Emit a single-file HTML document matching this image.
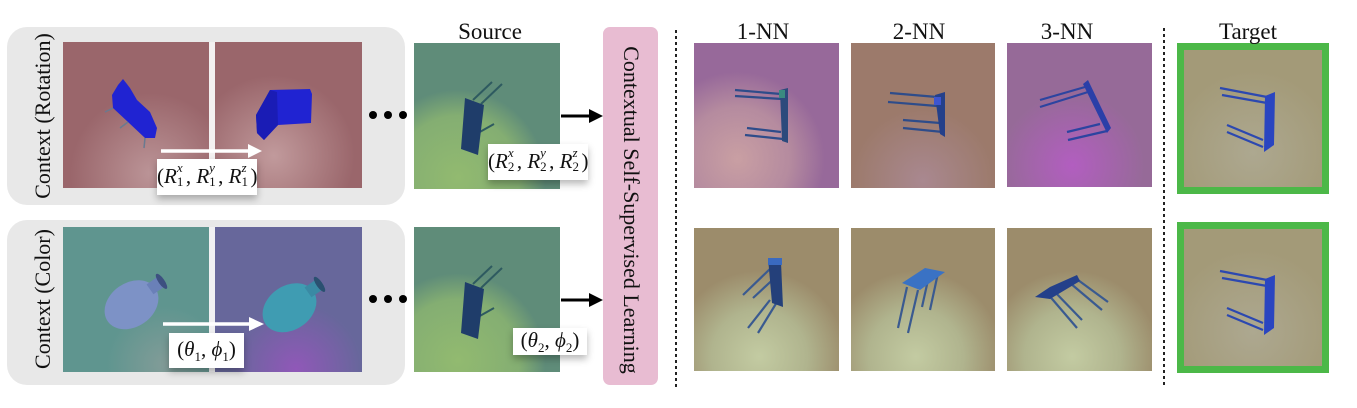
<!DOCTYPE html>
<html><head><meta charset="utf-8">
<style>
html,body{margin:0;padding:0;background:#fff;}
body{width:1357px;height:408px;position:relative;overflow:hidden;font-family:"Liberation Serif",serif;color:#111;}
.abs{position:absolute;}
.panel{position:absolute;background:#e8e8e8;border-radius:20px;}
.head{position:absolute;font-size:23px;line-height:23px;transform:translateX(-50%);white-space:nowrap;top:20px;}
.rot{position:absolute;font-size:22px;line-height:22px;white-space:nowrap;transform:translate(-50%,-50%) rotate(-90deg);}
.rot90{position:absolute;font-size:22px;line-height:22px;white-space:nowrap;transform:translate(-50%,-50%) rotate(90deg);}
.lbl{position:absolute;background:#fff;box-shadow:0 4px 7px rgba(0,0,0,.28);text-align:center;font-size:21px;white-space:nowrap;}
.lbl > span{display:inline-block;}
.ss{display:inline-block;position:relative;width:9px;height:10px;}
.ss .sp{position:absolute;left:0;top:-12px;font-size:13px;line-height:13px;font-style:italic;}
.ss .sd{position:absolute;left:0;top:2px;font-size:13px;line-height:13px;}
i{font-style:italic;}
.sb{display:inline-block;font-size:13px;position:relative;top:5px;}
</style></head><body>

<div class="panel" style="left:7px;top:27px;width:398px;height:178px;"></div>
<div class="panel" style="left:7px;top:220px;width:398px;height:165px;"></div>
<div class="abs" style="left:603px;top:27px;width:55px;height:358px;background:#e8bcd2;border-radius:7px;"></div>

<svg class="abs" style="left:0;top:0" width="1357" height="408" viewBox="0 0 1357 408">
<defs>
<radialGradient id="gRot1" cx="0.6" cy="0.9" r="0.55"><stop offset="0" stop-color="#bb9497"/><stop offset="1" stop-color="#9a666b"/></radialGradient>
<radialGradient id="gRot2" cx="0.4" cy="0.78" r="0.55"><stop offset="0" stop-color="#c19a9c"/><stop offset="1" stop-color="#9a666b"/></radialGradient>
<radialGradient id="gSrc" cx="0.3" cy="0.92" r="0.6"><stop offset="0" stop-color="#92ba70"/><stop offset="0.7" stop-color="#84ae72"/><stop offset="1" stop-color="#5f8c79"/></radialGradient>
<radialGradient id="gCol1" cx="0.7" cy="0.95" r="0.4"><stop offset="0" stop-color="#829c98"/><stop offset="1" stop-color="#5f958f"/></radialGradient>
<radialGradient id="gCol2" cx="0.55" cy="0.98" r="0.45"><stop offset="0" stop-color="#9058b8"/><stop offset="1" stop-color="#67679b"/></radialGradient>
<radialGradient id="gN1" cx="0.3" cy="0.8" r="0.6"><stop offset="0" stop-color="#c99fa3"/><stop offset="0.6" stop-color="#b58b9f"/><stop offset="1" stop-color="#97699a"/></radialGradient>
<radialGradient id="gN2" cx="0.5" cy="0.95" r="0.5"><stop offset="0" stop-color="#a98890"/><stop offset="1" stop-color="#9c7a6b"/></radialGradient>
<radialGradient id="gN3" cx="0.45" cy="0.85" r="0.5"><stop offset="0" stop-color="#b25ec0"/><stop offset="1" stop-color="#966a98"/></radialGradient>
<radialGradient id="gB" cx="0.45" cy="0.9" r="0.6"><stop offset="0" stop-color="#c3cba2"/><stop offset="0.55" stop-color="#b0b48e"/><stop offset="1" stop-color="#9c8c6b"/></radialGradient>
<radialGradient id="gT" cx="0.5" cy="0.75" r="0.6"><stop offset="0" stop-color="#ada890"/><stop offset="1" stop-color="#a39a78"/></radialGradient>
</defs>

<rect x="63" y="42" width="146" height="146" fill="url(#gRot1)"/>
<rect x="209" y="42" width="6" height="146" fill="#f3f0f0"/>
<rect x="215" y="42" width="147" height="146" fill="url(#gRot2)"/>
<polygon points="123,79 130,88 137,100 150,112 157,128 155,138 145,138 128,122 113,108 112,95 118,85" fill="#2023d2"/>
<g stroke="#6a7a90" stroke-width="1.5"><line x1="113" y1="108" x2="105" y2="112"/><line x1="128" y1="122" x2="120" y2="128"/><line x1="145" y1="138" x2="144" y2="148"/></g>
<polygon points="270,90 310,89 312,94 311,123 278,125 264,140 257,133 256,115" fill="#2023d2"/>
<polygon points="270,90 277,92 278,125 264,140 257,133 256,115" fill="#1a1cb5"/>

<rect x="63" y="227" width="146" height="145" fill="url(#gCol1)"/>
<rect x="209" y="227" width="6" height="145" fill="#f0f0f2"/>
<rect x="215" y="227" width="147" height="145" fill="url(#gCol2)"/>
<g transform="rotate(-35 132 302)"><ellipse cx="130" cy="304" rx="29" ry="22" fill="#7d92c6"/><rect x="154" y="296" width="14" height="12" fill="#6a80b8"/><ellipse cx="168" cy="302" rx="3" ry="9" fill="#3d5080"/></g>
<g transform="rotate(-35 290 305)"><ellipse cx="288" cy="307" rx="29" ry="22" fill="#3f9cb2"/><rect x="312" y="299" width="14" height="12" fill="#3a8aa4"/><ellipse cx="326" cy="305" rx="3" ry="9" fill="#2a5070"/></g>

<g fill="#000"><circle cx="373" cy="115" r="4"/><circle cx="388" cy="115" r="4"/><circle cx="403" cy="115" r="4"/>
<circle cx="373" cy="299" r="4"/><circle cx="388" cy="299" r="4"/><circle cx="403" cy="299" r="4"/></g>

<line x1="161" y1="151" x2="250" y2="151" stroke="#fff" stroke-width="3.5"/>
<polygon points="248,144 262,151 248,158" fill="#fff"/>
<line x1="163" y1="324" x2="251" y2="324" stroke="#fff" stroke-width="3.5"/>
<polygon points="249,317 264,324 249,331" fill="#fff"/>

<rect x="414" y="43" width="146" height="146" fill="url(#gSrc)"/>
<rect x="414" y="227" width="146" height="145" fill="url(#gSrc)"/>
<g id="tbl">
<g stroke="#2e5a60" stroke-width="2"><line x1="473" y1="100" x2="492" y2="82"/><line x1="481" y1="104" x2="502" y2="84"/><line x1="478" y1="133" x2="494" y2="124"/></g>
<polygon points="465,98 484,105 478,155 461,149" fill="#1f3d6a"/>
</g>
<use href="#tbl" transform="translate(0,184)"/>

<line x1="561" y1="116" x2="592" y2="116" stroke="#000" stroke-width="3"/>
<polygon points="589,109 603,116 589,123" fill="#000"/>
<line x1="561" y1="300" x2="592" y2="300" stroke="#000" stroke-width="3"/>
<polygon points="589,293 603,300 589,307" fill="#000"/>

<line x1="676" y1="30" x2="676" y2="387" stroke="#222" stroke-width="2" stroke-dasharray="3,3"/>
<line x1="1164" y1="28" x2="1164" y2="387" stroke="#222" stroke-width="2" stroke-dasharray="3,3"/>

<rect x="694" y="43" width="145" height="145" fill="url(#gN1)"/>
<rect x="851" y="43" width="144" height="145" fill="url(#gN2)"/>
<rect x="1007" y="43" width="145" height="144" fill="url(#gN3)"/>
<rect x="694" y="228" width="145" height="143" fill="url(#gB)"/>
<rect x="851" y="228" width="144" height="143" fill="url(#gB)"/>
<rect x="1007" y="228" width="145" height="143" fill="url(#gB)"/>
<rect x="1177" y="43" width="152" height="151" fill="#4cb848"/>
<rect x="1184" y="50" width="138" height="137" fill="url(#gT)"/>
<rect x="1177" y="222" width="152" height="151" fill="#4cb848"/>
<rect x="1184" y="229" width="138" height="137" fill="url(#gT)"/>

<g stroke="#2e4c8a" stroke-width="2.2">
<line x1="735" y1="90" x2="781" y2="94"/><line x1="735" y1="96" x2="782" y2="99"/>
<line x1="747" y1="128" x2="781" y2="132"/><line x1="745" y1="135" x2="783" y2="139"/></g>
<polygon points="780,90 788,88 788,143 782,141" fill="#2c4a7c"/>
<rect x="779" y="90" width="6" height="8" fill="#3a8a80"/>
<g stroke="#2e4c8a" stroke-width="2.2">
<line x1="890" y1="93" x2="937" y2="97"/><line x1="888" y1="102" x2="937" y2="106"/>
<line x1="903" y1="120" x2="940" y2="123"/><line x1="903" y1="128" x2="943" y2="132"/></g>
<polygon points="935,95 945,92 945,137 940,134" fill="#24408a"/>
<rect x="934" y="97" width="7" height="8" fill="#3d55d0"/>
<g stroke="#2c44a0" stroke-width="2.2">
<line x1="1040" y1="100" x2="1085" y2="87"/><line x1="1040" y1="107" x2="1088" y2="92"/>
<line x1="1067" y1="132" x2="1100" y2="124"/><line x1="1068" y1="140" x2="1107" y2="131"/></g>
<polygon points="1083,84 1088,80 1111,128 1107,133" fill="#2a3fa8"/>
<g id="tgt">
<g stroke="#2c48b0" stroke-width="2.2">
<line x1="1220" y1="88" x2="1267" y2="97"/><line x1="1222" y1="95" x2="1267" y2="103"/>
<line x1="1227" y1="125" x2="1263" y2="140"/><line x1="1227" y1="132" x2="1263" y2="147"/></g>
<polygon points="1265,96 1275,92 1274,145 1264,152" fill="#2a45c0"/>
</g>
<use href="#tgt" transform="translate(0,183)"/>

<g stroke="#3a5a90" stroke-width="2.2">
<line x1="772" y1="267" x2="743" y2="295"/><line x1="780" y1="273" x2="753" y2="298"/>
<line x1="770" y1="300" x2="748" y2="328"/><line x1="777" y1="302" x2="758" y2="333"/></g>
<polygon points="768,258 781,262 783,307 772,303" fill="#24407a"/>
<rect x="768" y="258" width="14" height="7" fill="#3a6ac0"/>
<g stroke="#3a5a90" stroke-width="2.2">
<line x1="907" y1="287" x2="898" y2="328"/><line x1="918" y1="290" x2="908" y2="333"/>
<line x1="938" y1="273" x2="930" y2="310"/><line x1="928" y1="280" x2="922" y2="307"/></g>
<polygon points="902,283 925,268 945,272 920,290" fill="#3a72c4"/>
<g stroke="#3a5a90" stroke-width="2.2">
<line x1="1047" y1="293" x2="1077" y2="328"/><line x1="1053" y1="290" x2="1082" y2="320"/>
<line x1="1070" y1="283" x2="1102" y2="310"/><line x1="1078" y1="280" x2="1108" y2="302"/></g>
<polygon points="1035,297 1050,287 1077,275 1080,281 1050,299" fill="#24408a"/>
</svg>

<div class="head" style="left:490px;">Source</div>
<div class="head" style="left:763px;">1-NN</div>
<div class="head" style="left:919px;">2-NN</div>
<div class="head" style="left:1067px;">3-NN</div>
<div class="head" style="left:1248px;">Target</div>

<div class="rot" style="left:43px;top:116px;">Context (Rotation)</div>
<div class="rot" style="left:43px;top:299px;">Context (Color)</div>
<div class="rot90" style="left:631px;top:210px;">Contextual Self-Supervised Learning</div>

<div class="lbl" style="left:157px;top:159px;width:100px;height:36px;line-height:34px;"><span>(<i>R</i><span class="ss"><span class="sp">x</span><span class="sd">1</span></span>, <i>R</i><span class="ss"><span class="sp">y</span><span class="sd">1</span></span>, <i>R</i><span class="ss"><span class="sp">z</span><span class="sd">1</span></span>)</span></div>
<div class="lbl" style="left:169px;top:333px;width:75px;height:35px;line-height:33px;"><span>(<i>θ</i><span class="sb">1</span>, <i>ϕ</i><span class="sb">1</span>)</span></div>
<div class="lbl" style="left:488px;top:144px;width:100px;height:36px;line-height:34px;"><span>(<i>R</i><span class="ss"><span class="sp">x</span><span class="sd">2</span></span>, <i>R</i><span class="ss"><span class="sp">y</span><span class="sd">2</span></span>, <i>R</i><span class="ss"><span class="sp">z</span><span class="sd">2</span></span>)</span></div>
<div class="lbl" style="left:513px;top:328px;width:74px;height:27px;line-height:25px;"><span>(<i>θ</i><span class="sb">2</span>, <i>ϕ</i><span class="sb">2</span>)</span></div>

</body></html>
